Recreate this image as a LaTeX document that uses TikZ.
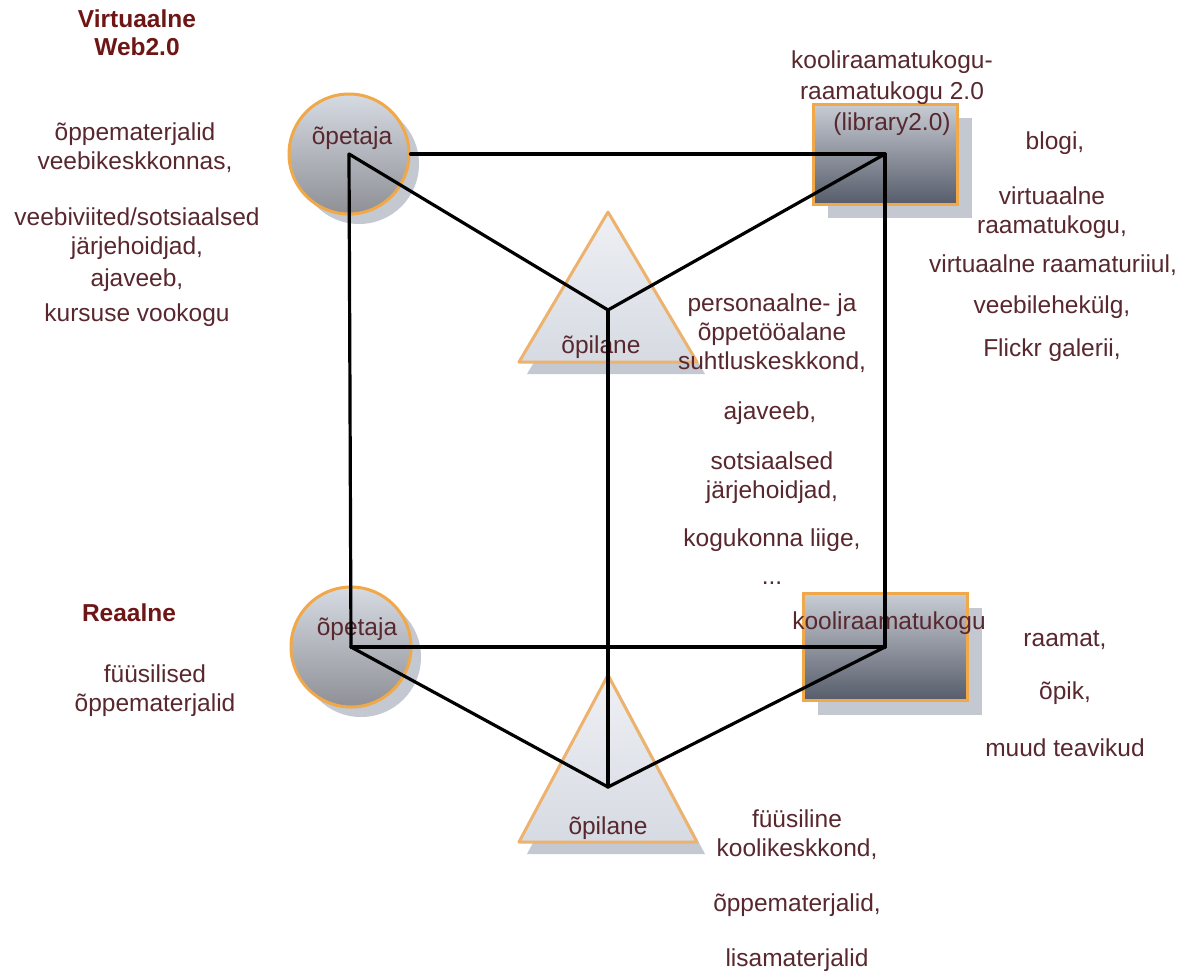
\documentclass[tikz,border=0pt]{standalone}
\usepackage{fontspec}
\setmainfont{Liberation Sans}
\usepackage{tikz}
\usetikzlibrary{shapes.geometric,shadows}
\usepackage{xcolor}
\definecolor{ftext}{HTML}{58282E}
\definecolor{ftitle}{HTML}{6E1616}
\definecolor{forange}{HTML}{F0A848}
\definecolor{ftriedge}{HTML}{EDB36E}
\definecolor{fshadow}{HTML}{C3C8D1}

\begin{document}
\begin{tikzpicture}[x=1pt, y=-1pt,
  note/.style={font=\fontsize{24.5}{29}\selectfont, text=ftext, align=center, inner sep=0pt},
  title/.style={note, font=\fontsize{24.5}{28}\selectfont\bfseries, text=ftitle},
  person/.style={circle, minimum size=120pt, draw=forange, line width=3pt,
    top color={rgb,255:red,214;green,218;blue,226}, bottom color={rgb,255:red,142;green,144;blue,150},
    drop shadow={shadow xshift=10pt, shadow yshift=-10pt, fill=fshadow, opacity=1}},
  library/.style={rectangle, draw=forange, line width=3pt,
    top color={rgb,255:red,200;green,204;blue,212}, bottom color={rgb,255:red,86;green,92;blue,106},
    drop shadow={shadow xshift=15pt, shadow yshift=-14pt, fill=fshadow, opacity=1}},
  pupil/.style={draw=ftriedge, line width=3pt, line join=round,
    top color={rgb,255:red,238;green,240;blue,244}, bottom color={rgb,255:red,214;green,218;blue,226},
    drop shadow={shadow xshift=8pt, shadow yshift=-12pt, fill=fshadow, opacity=1}},
  edge/.style={line width=3.2pt, black, line cap=round, line join=round}]
\path[use as bounding box, fill=white] (0,0) rectangle (1191,975);
% ---------- shapes ----------
\node[person] (topteach) at (349,154) {};
\node[person] (botteach) at (351,647) {};
\node[library, minimum width=144pt, minimum height=100pt] (toplib) at (885,154) {};
\node[library, minimum width=164pt, minimum height=107pt] (botlib) at (885,647) {};
\begin{scope}[shift={(608,310)}]
  \draw[pupil] (0,-98) -- (89,52) -- (-89,52) -- cycle;
  \coordinate (topstud) at (0,0);
\end{scope}
\begin{scope}[shift={(608,787)}]
  \draw[pupil] (0,-112) -- (89,55) -- (-89,55) -- cycle;
  \coordinate (botstud) at (0,0);
\end{scope}
% ---------- shape labels ----------
\node[note] (topteach-l) at (352,138) {õpetaja};
\node[note] (botteach-l) at (357,629) {õpetaja};
\node[note] (topstud-l) at (601,347) {õpilane};
\node[note] (botstud-l) at (608,828) {õpilane};
\node[note, font=\fontsize{24.5}{31}\selectfont] (toplib-l) at (892,93)
   {kooliraamatukogu-\\raamatukogu 2.0\\(library2.0)};
\node[note] (botlib-l) at (889,623) {kooliraamatukogu};
% ---------- edges ----------
\draw[edge] (topteach.east) -- (toplib.center);
\draw[edge] (topteach.center) -- (topstud) -- (toplib.center);
\draw[edge] (botteach.center) -- (botlib.center);
\draw[edge] (botteach.center) -- (botstud) -- (botlib.center);
\draw[edge] (topteach.center) -- (botteach.center);
\draw[edge] (toplib.center) -- (botlib.center);
\draw[edge] (topstud) -- (botstud);
% ---------- virtual ----------
\node[title] (virt) at (137,33) {Virtuaalne\\Web2.0};
\node[note] (v1) at (135,148) {õppematerjalid\\veebikeskkonnas,};
\node[note] (v2) at (137,234) {veebiviited/sotsiaalsed\\järjehoidjad,};
\node[note] (v3) at (137,280) {ajaveeb,};
\node[note] (v4) at (137,315) {kursuse vookogu};
\node[note] (l1) at (1055,143) {blogi,};
\node[note] (l2) at (1052,213) {virtuaalne\\raamatukogu,};
\node[note] (l3) at (1053,265) {virtuaalne raamaturiiul,};
\node[note] (l4) at (1052,307) {veebilehekülg,};
\node[note] (l5) at (1052,350) {Flickr galerii,};
\node[note] (s1) at (772,333) {personaalne- ja\\õppetööalane\\suhtluskeskkond,};
\node[note] (s2) at (770,413) {ajaveeb,};
\node[note] (s3) at (772,478) {sotsiaalsed\\järjehoidjad,};
\node[note] (s4) at (772,540) {kogukonna liige,};
\node[note] (s5) at (772,583) {...};
% ---------- real ----------
\node[title] (real) at (129,613) {Reaalne};
\node[note] (r1) at (155,691) {füüsilised\\õppematerjalid};
\node[note] (b1) at (1065,640) {raamat,};
\node[note] (b2) at (1065,693) {õpik,};
\node[note] (b3) at (1065,748) {muud teavikud};
\node[note] (p1) at (797,835) {füüsiline\\koolikeskkond,};
\node[note] (p2) at (797,905) {õppematerjalid,};
\node[note] (p3) at (797,960) {lisamaterjalid};
\end{tikzpicture}
\end{document}
